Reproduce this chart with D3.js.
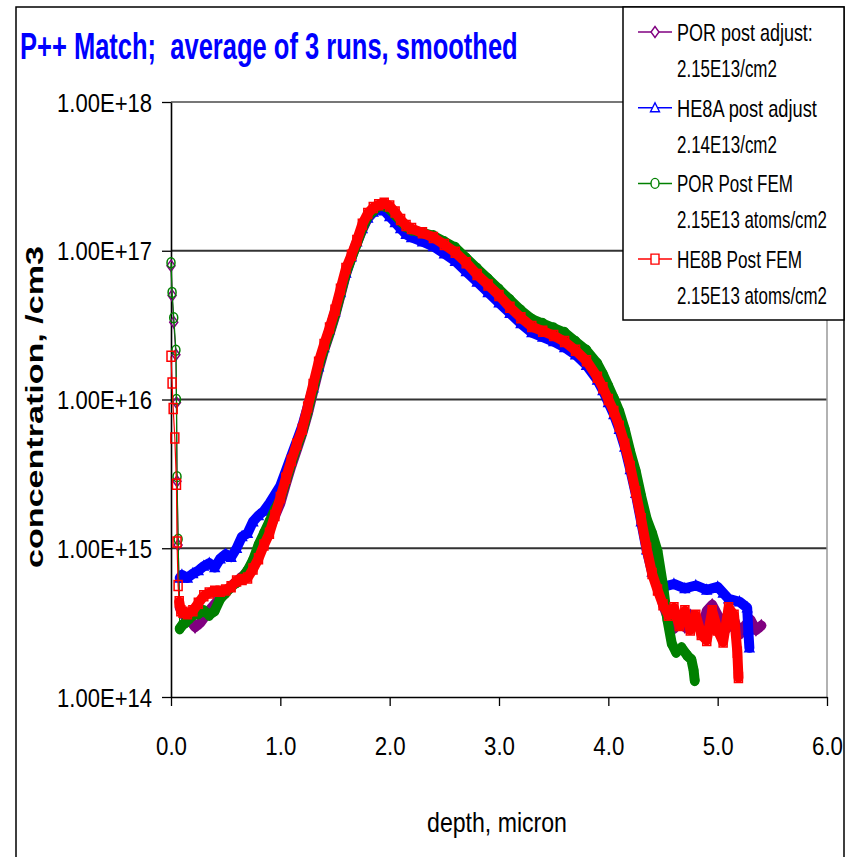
<!DOCTYPE html>
<html><head><meta charset="utf-8">
<script src="https://cdn.jsdelivr.net/npm/d3@7/dist/d3.min.js"></script>
<style>body{margin:0;background:#fff}text{font-family:"Liberation Sans",Arial,sans-serif;white-space:pre}</style>
</head><body>
<svg id="c" width="851" height="857"></svg>
<script>
// ---- data: [depth (micron), concentration (/cm3)] ----
const porPostAdjust = [[0.00,7.94e16],[0.01,5.01e16],[0.025,3.31e16],[0.045,2.00e16],[0.05,9.55e15],[0.055,2.82e15],[0.065,1.05e15],[0.08,3.98e14],[0.12,3.55e14],[0.17,3.31e14],[0.22,2.95e14],[0.27,3.16e14],[0.32,3.55e14],[0.37,3.98e14],[0.42,4.37e14],[0.47,4.79e14],[0.52,5.25e14],[0.57,5.75e14],[0.62,6.17e14],[0.67,6.61e14],[0.72,7.41e14],[0.77,8.71e14],[0.82,1.00e15],[0.87,1.20e15],[0.92,1.45e15],[0.97,1.78e15],[1.00,2.00e15],[1.05,2.69e15],[1.10,3.55e15],[1.15,4.57e15],[1.20,5.89e15],[1.25,7.94e15],[1.30,1.12e16],[1.35,1.58e16],[1.40,2.14e16],[1.45,2.75e16],[1.50,3.63e16],[1.55,5.01e16],[1.60,6.92e16],[1.65,8.91e16],[1.70,1.12e17],[1.75,1.38e17],[1.80,1.66e17],[1.85,1.82e17],[1.90,1.95e17],[1.95,1.95e17],[2.00,1.86e17],[2.10,1.55e17],[2.20,1.35e17],[2.30,1.26e17],[2.40,1.20e17],[2.50,1.07e17],[2.60,9.77e16],[2.70,8.32e16],[2.80,7.08e16],[2.90,6.03e16],[3.00,5.13e16],[3.10,4.37e16],[3.20,3.72e16],[3.30,3.24e16],[3.40,3.02e16],[3.50,2.82e16],[3.60,2.63e16],[3.70,2.29e16],[3.80,2.00e16],[3.90,1.62e16],[3.95,1.38e16],[4.00,1.15e16],[4.05,9.55e15],[4.10,7.76e15],[4.15,5.89e15],[4.20,4.17e15],[4.25,2.82e15],[4.30,1.91e15],[4.35,1.32e15],[4.40,8.91e14],[4.45,6.03e14],[4.50,4.17e14],[4.55,3.31e14],[4.60,2.88e14],[4.65,3.16e14],[4.70,2.95e14],[4.75,3.55e14],[4.80,3.16e14],[4.85,2.82e14],[4.90,3.80e14],[4.95,4.17e14],[5.00,3.55e14],[5.05,3.16e14],[5.10,2.95e14],[5.15,3.31e14],[5.20,2.63e14],[5.25,3.02e14],[5.30,3.31e14],[5.35,2.82e14],[5.40,3.02e14]];

const he8aPostAdjust = [[0.08,6.31e14],[0.10,6.61e14],[0.15,6.31e14],[0.20,6.76e14],[0.25,7.08e14],[0.30,7.59e14],[0.35,7.94e14],[0.40,7.41e14],[0.45,8.51e14],[0.50,9.12e14],[0.55,8.71e14],[0.60,1.00e15],[0.65,1.20e15],[0.70,1.26e15],[0.75,1.51e15],[0.80,1.66e15],[0.85,1.78e15],[0.90,2.00e15],[0.95,2.29e15],[1.00,2.63e15],[1.05,3.31e15],[1.10,4.17e15],[1.15,5.25e15],[1.20,6.61e15],[1.25,8.91e15],[1.30,1.20e16],[1.35,1.66e16],[1.40,2.24e16],[1.45,2.95e16],[1.50,3.89e16],[1.55,5.25e16],[1.60,7.08e16],[1.65,9.12e16],[1.70,1.15e17],[1.75,1.41e17],[1.80,1.66e17],[1.85,1.82e17],[1.90,1.91e17],[1.95,1.86e17],[2.00,1.70e17],[2.05,1.55e17],[2.10,1.41e17],[2.15,1.29e17],[2.20,1.23e17],[2.30,1.15e17],[2.40,1.07e17],[2.50,9.55e16],[2.60,8.51e16],[2.70,7.24e16],[2.80,6.17e16],[2.90,5.25e16],[3.00,4.47e16],[3.10,3.80e16],[3.20,3.24e16],[3.30,2.82e16],[3.40,2.63e16],[3.50,2.45e16],[3.60,2.24e16],[3.70,2.00e16],[3.80,1.70e16],[3.90,1.35e16],[3.95,1.15e16],[4.00,9.55e15],[4.05,7.94e15],[4.10,6.31e15],[4.15,4.79e15],[4.20,3.39e15],[4.25,2.34e15],[4.30,1.51e15],[4.35,9.77e14],[4.40,6.92e14],[4.45,5.75e14],[4.50,5.50e14],[4.60,5.75e14],[4.70,5.37e14],[4.80,5.62e14],[4.90,5.25e14],[5.00,5.50e14],[5.05,5.01e14],[5.10,4.57e14],[5.20,4.37e14],[5.27,3.98e14],[5.28,2.82e14],[5.29,2.14e14]];

const porPostFem = [[0.00,8.32e16],[0.01,5.25e16],[0.025,3.55e16],[0.045,2.14e16],[0.05,1.00e16],[0.055,3.02e15],[0.065,1.15e15],[0.08,2.88e14],[0.10,3.02e14],[0.13,3.16e14],[0.17,3.39e14],[0.20,3.55e14],[0.25,3.63e14],[0.30,3.80e14],[0.35,3.55e14],[0.40,3.80e14],[0.45,4.57e14],[0.50,5.01e14],[0.55,5.50e14],[0.60,5.89e14],[0.65,6.31e14],[0.70,7.08e14],[0.75,8.32e14],[0.80,1.05e15],[0.85,1.26e15],[0.90,1.51e15],[0.95,1.82e15],[1.00,2.14e15],[1.05,2.82e15],[1.10,3.72e15],[1.15,4.79e15],[1.20,6.03e15],[1.25,8.32e15],[1.30,1.17e16],[1.35,1.66e16],[1.40,2.19e16],[1.45,2.82e16],[1.50,3.72e16],[1.55,5.13e16],[1.60,7.08e16],[1.65,8.91e16],[1.70,1.12e17],[1.75,1.41e17],[1.80,1.70e17],[1.85,1.86e17],[1.90,2.00e17],[1.95,2.00e17],[2.00,1.91e17],[2.05,1.74e17],[2.10,1.58e17],[2.15,1.45e17],[2.20,1.38e17],[2.30,1.32e17],[2.40,1.26e17],[2.50,1.15e17],[2.60,1.05e17],[2.70,8.91e16],[2.80,7.59e16],[2.90,6.46e16],[3.00,5.50e16],[3.10,4.68e16],[3.20,3.98e16],[3.30,3.47e16],[3.40,3.24e16],[3.50,3.02e16],[3.60,2.82e16],[3.70,2.45e16],[3.80,2.14e16],[3.90,1.74e16],[3.95,1.48e16],[4.00,1.23e16],[4.05,1.02e16],[4.10,8.32e15],[4.15,6.31e15],[4.20,4.47e15],[4.25,3.31e15],[4.30,2.24e15],[4.35,1.58e15],[4.40,1.26e15],[4.45,9.55e14],[4.50,5.62e14],[4.54,3.31e14],[4.58,2.29e14],[4.62,2.00e14],[4.67,2.14e14],[4.72,1.91e14],[4.76,1.78e14],[4.78,1.51e14],[4.79,1.29e14]];

const he8bPostFem = [[0.00,1.95e16],[0.01,1.29e16],[0.02,8.71e15],[0.035,5.50e15],[0.05,2.69e15],[0.055,1.10e15],[0.065,5.62e14],[0.075,4.37e14],[0.09,3.80e14],[0.11,3.72e14],[0.15,3.63e14],[0.20,3.80e14],[0.25,4.27e14],[0.30,4.79e14],[0.35,5.01e14],[0.40,5.13e14],[0.45,5.13e14],[0.50,5.25e14],[0.55,5.50e14],[0.60,6.03e14],[0.65,6.17e14],[0.70,6.31e14],[0.75,7.24e14],[0.80,8.51e14],[0.85,1.05e15],[0.90,1.26e15],[0.95,1.66e15],[1.00,2.19e15],[1.05,2.95e15],[1.10,3.89e15],[1.15,5.01e15],[1.20,6.31e15],[1.25,8.91e15],[1.30,1.26e16],[1.35,1.78e16],[1.40,2.34e16],[1.45,3.02e16],[1.50,3.98e16],[1.55,5.50e16],[1.60,7.59e16],[1.65,9.33e16],[1.70,1.17e17],[1.75,1.51e17],[1.80,1.78e17],[1.85,1.95e17],[1.90,2.04e17],[1.95,2.09e17],[2.00,2.00e17],[2.05,1.82e17],[2.10,1.62e17],[2.15,1.48e17],[2.20,1.41e17],[2.30,1.32e17],[2.40,1.23e17],[2.50,1.10e17],[2.60,9.77e16],[2.70,8.32e16],[2.80,6.92e16],[2.90,5.89e16],[3.00,5.01e16],[3.10,4.17e16],[3.20,3.55e16],[3.30,3.09e16],[3.40,2.88e16],[3.50,2.69e16],[3.60,2.45e16],[3.70,2.14e16],[3.80,1.82e16],[3.90,1.41e16],[3.95,1.20e16],[4.00,1.00e16],[4.05,8.32e15],[4.10,6.61e15],[4.15,5.01e15],[4.20,3.55e15],[4.25,2.40e15],[4.30,1.58e15],[4.35,1.00e15],[4.40,6.76e14],[4.45,5.25e14],[4.50,4.17e14],[4.55,3.55e14],[4.60,3.98e14],[4.65,3.02e14],[4.70,3.80e14],[4.75,2.82e14],[4.80,3.55e14],[4.85,2.63e14],[4.90,2.40e14],[4.95,3.80e14],[5.00,2.82e14],[5.05,2.34e14],[5.10,3.98e14],[5.15,3.55e14],[5.18,2.00e14],[5.19,1.35e14]];

const seriesNames = [["POR post adjust:","2.15E13/cm2"],["HE8A post adjust","2.14E13/cm2"],["POR Post FEM","2.15E13 atoms/cm2"],["HE8B Post FEM","2.15E13 atoms/cm2"]];
const yTicks = [1e14,1e15,1e16,1e17,1e18];
const xTicks = [0,1,2,3,4,5,6];
const titleText = "P++ Match;  average of 3 runs, smoothed";
const xTitle = "depth, micron";
const yTitle = "concentration, /cm3";

// ---- drawing ----
const svg = d3.select("#c");
const x = d3.scaleLinear().domain([0,6]).range([171,827]);
const y = d3.scaleLog().domain([1e14,1e18]).range([697,102]);

const series = [
  {data: porPostAdjust, color:"#800080", marker:"diamond", label: seriesNames[0], lw:[136,100]},
  {data: he8aPostAdjust, color:"#0000ff", marker:"triangle", label: seriesNames[1], lw:[140,100]},
  {data: porPostFem, color:"#008000", marker:"circle", label: seriesNames[2], lw:[116,150]},
  {data: he8bPostFem, color:"#ff0000", marker:"square", label: seriesNames[3], lw:[125,150]}
];

// condensed text: horizontal scale so the text spans a given width
function squeeze(t, width){
  const w = t.node().getComputedTextLength();
  return w > 0 ? width / w : 1;
}
function fitText(parent, o){
  const g = parent.append("g").attr("transform", `translate(${o.x},${o.y})` + (o.rotate ? ` rotate(${o.rotate})` : ""));
  const t = g.append("text").attr("x",0).attr("y",0).attr("font-size",o.size)
    .attr("font-weight",o.weight||"normal").attr("fill",o.fill||"#000")
    .attr("text-anchor",o.anchor||"start").text(o.text);
  t.attr("transform",`scale(${squeeze(t,o.width)},1)`);
  return t;
}

// outer frame
svg.append("path").attr("d","M16,857 L16,7 L844,7 L844,857").attr("fill","none").attr("stroke","#000").attr("stroke-width",1.5);

// title
fitText(svg,{x:20,y:59,size:37,weight:"bold",fill:"#0000ff",width:498,text:titleText});

// grid lines
svg.append("g").selectAll("line").data(yTicks.slice(1)).join("line")
  .attr("x1",x(0)).attr("x2",x(6)).attr("y1",d=>y(d)).attr("y2",d=>y(d))
  .attr("stroke",d=>d===1e18?"#777":"#333").attr("stroke-width",2);
// right plot border
svg.append("line").attr("x1",x(6)).attr("x2",x(6)).attr("y1",y(1e18)).attr("y2",y(1e14)).attr("stroke","#999").attr("stroke-width",1.5);

// axes
const fmtE = d => "1.00E+" + Math.round(Math.log10(d));
const yAxis = svg.append("g").attr("transform",`translate(${x(0)},0)`)
  .call(d3.axisLeft(y).tickValues(yTicks).tickFormat(fmtE).tickSize(9).tickSizeOuter(0));
yAxis.select(".domain").attr("stroke","#000").attr("stroke-width",1.6);
yAxis.selectAll(".tick line").attr("stroke","#000").attr("stroke-width",1.3);
yAxis.selectAll(".tick text").attr("font-size",25).attr("fill","#000").attr("x",0).attr("dy","0.36em")
  .style("font-family",'"Liberation Sans",Arial,sans-serif')
  .each(function(){ const t=d3.select(this); t.attr("transform",`translate(-19,0) scale(${squeeze(t,95)},1)`); });

const xAxis = svg.append("g").attr("transform",`translate(0,${y(1e14)})`)
  .call(d3.axisBottom(x).tickValues(xTicks).tickFormat(d3.format(".1f")).tickSize(9).tickSizeOuter(0));
xAxis.select(".domain").attr("stroke","#000").attr("stroke-width",1.6);
xAxis.selectAll(".tick line").attr("stroke","#000").attr("stroke-width",1.3);
xAxis.selectAll(".tick text").attr("font-size",25).attr("fill","#000").attr("y",0).attr("dy","0")
  .style("font-family",'"Liberation Sans",Arial,sans-serif')
  .each(function(){ const t=d3.select(this); t.attr("transform",`translate(0,58) scale(${squeeze(t,31)},1)`); });

// axis titles
fitText(svg,{x:497,y:832,size:27,anchor:"middle",width:140,text:xTitle});
fitText(svg,{x:43,y:407,rotate:-90,size:23,weight:"bold",anchor:"middle",width:322,text:yTitle});

// marker shapes
function markerPath(type){
  switch(type){
    case "diamond": return "M0,-5.5L4,0L0,5.5L-4,0Z";
    case "triangle": return "M0,-5L4.5,4L-4.5,4Z";
    case "circle": return "M0,-5A4,5 0 1,1 0,5A4,5 0 1,1 0,-5Z";
    case "square": return "M-4,-5H4V5H-4Z";
  }
}

const line = d3.line().x(d=>x(d[0])).y(d=>y(d[1]));
const plot = svg.append("g");
series.forEach(s=>{
  const g = plot.append("g");
  // dense-marker band (main profile where samples are closely spaced)
  g.append("path").datum(s.data.filter(d=>d[0]>=0.075)).attr("d",line).attr("fill","none")
    .attr("stroke",s.color).attr("stroke-width",10).attr("stroke-linejoin","round").attr("stroke-linecap","round");
  g.append("path").datum(s.data).attr("d",line).attr("fill","none").attr("stroke",s.color).attr("stroke-width",1.2);
  g.selectAll("path.m").data(s.data).join("path").attr("class","m")
    .attr("transform",d=>`translate(${x(d[0])},${y(d[1])})`).attr("d",markerPath(s.marker))
    .attr("fill","none").attr("stroke",s.color).attr("stroke-width",1.5);
});

// legend
const lg = svg.append("g");
lg.append("rect").attr("x",623).attr("y",7).attr("width",221).attr("height",313).attr("fill","#fff").attr("stroke","#000").attr("stroke-width",1.5);
series.forEach((s,i)=>{
  const cy = 32 + i*75.7;
  lg.append("line").attr("x1",638).attr("x2",672).attr("y1",cy).attr("y2",cy).attr("stroke",s.color).attr("stroke-width",1.5);
  lg.append("path").attr("transform",`translate(655,${cy})`).attr("d",markerPath(s.marker)).attr("fill","#fff").attr("stroke",s.color).attr("stroke-width",1.4);
  s.label.forEach((t,j)=>{
    fitText(lg,{x:677,y:cy+9+j*36,size:24,width:s.lw[j],text:t});
  });
});
</script>
</body></html>
